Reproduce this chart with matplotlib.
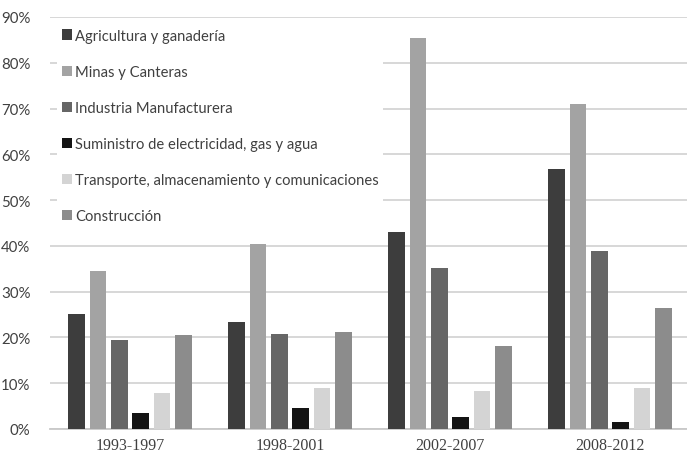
import numpy as np
import matplotlib.pyplot as plt
from matplotlib.ticker import PercentFormatter

# ── data ─────────────────────────────────────────────
periods = ["1993-1997", "1998-2001", "2002-2007", "2008-2012"]
sectors = ["Agricultura y ganadería", "Minas y Canteras",
           "Industria Manufacturera", "Suministro de electricidad, gas y agua",
           "Transporte, almacenamiento y comunicaciones", "Construcción"]

agricultura  = [25.1, 23.3, 43.0, 56.7]
minas        = [34.6, 40.4, 85.4, 71.0]
industria    = [19.4, 20.8, 35.1, 38.8]
electricidad = [3.4, 4.5, 2.6, 1.5]
transporte   = [7.8, 8.9, 8.2, 8.9]
construccion = [20.5, 21.1, 18.1, 26.4]

series = [agricultura, minas, industria, electricidad, transporte, construccion]
colors = ["#3d3d3d", "#a3a3a3", "#666666", "#141414", "#d4d4d4", "#8c8c8c"]

# ── plot ─────────────────────────────────────────────
fig = plt.figure(figsize=(6.87, 4.56), dpi=100)
ax = fig.add_axes([50 / 687, 1 - 430 / 456, 640 / 687, 412 / 456])

x = np.arange(len(periods))
step, width = 0.134, 0.103
for i, (vals, col, name) in enumerate(zip(series, colors, sectors)):
    ax.bar(x + (i - 2.5) * step, vals, width, color=col, label=name, zorder=3)

ax.set_xlim(-0.5, 3.5)
ax.set_ylim(0, 90)
ax.set_yticks(np.arange(0, 91, 10))
ax.yaxis.set_major_formatter(PercentFormatter(decimals=0))
ax.grid(axis='y', color='#d4d4d4', linewidth=1.3, zorder=0)
ax.set_axisbelow(True)

for s in ['top', 'right', 'left']:
    ax.spines[s].set_visible(False)
ax.spines['bottom'].set_color('#c8c8c8')
ax.spines['bottom'].set_linewidth(1.3)
ax.tick_params(length=0)

ax.set_xticks(x)
ax.set_xticklabels(periods, family='Liberation Serif', fontsize=11.5, color='#404040')
ax.tick_params(axis='x', pad=6)
for lab in ax.get_yticklabels():
    lab.set_family('Lato')
    lab.set_fontsize(10.8)
    lab.set_color('#404040')
ax.tick_params(axis='y', pad=14)

leg = ax.legend(loc='upper left', bbox_to_anchor=(0.0, 1.0),
                prop={'family': 'Lato', 'size': 10.6}, frameon=True,
                facecolor='white', edgecolor='none', framealpha=1,
                handlelength=0.7, handleheight=0.7, handletextpad=0.2,
                labelspacing=1.5, borderpad=0.3, labelcolor='#404040')
leg.set_zorder(5)

plt.savefig("out.png", dpi=100, facecolor='white')
